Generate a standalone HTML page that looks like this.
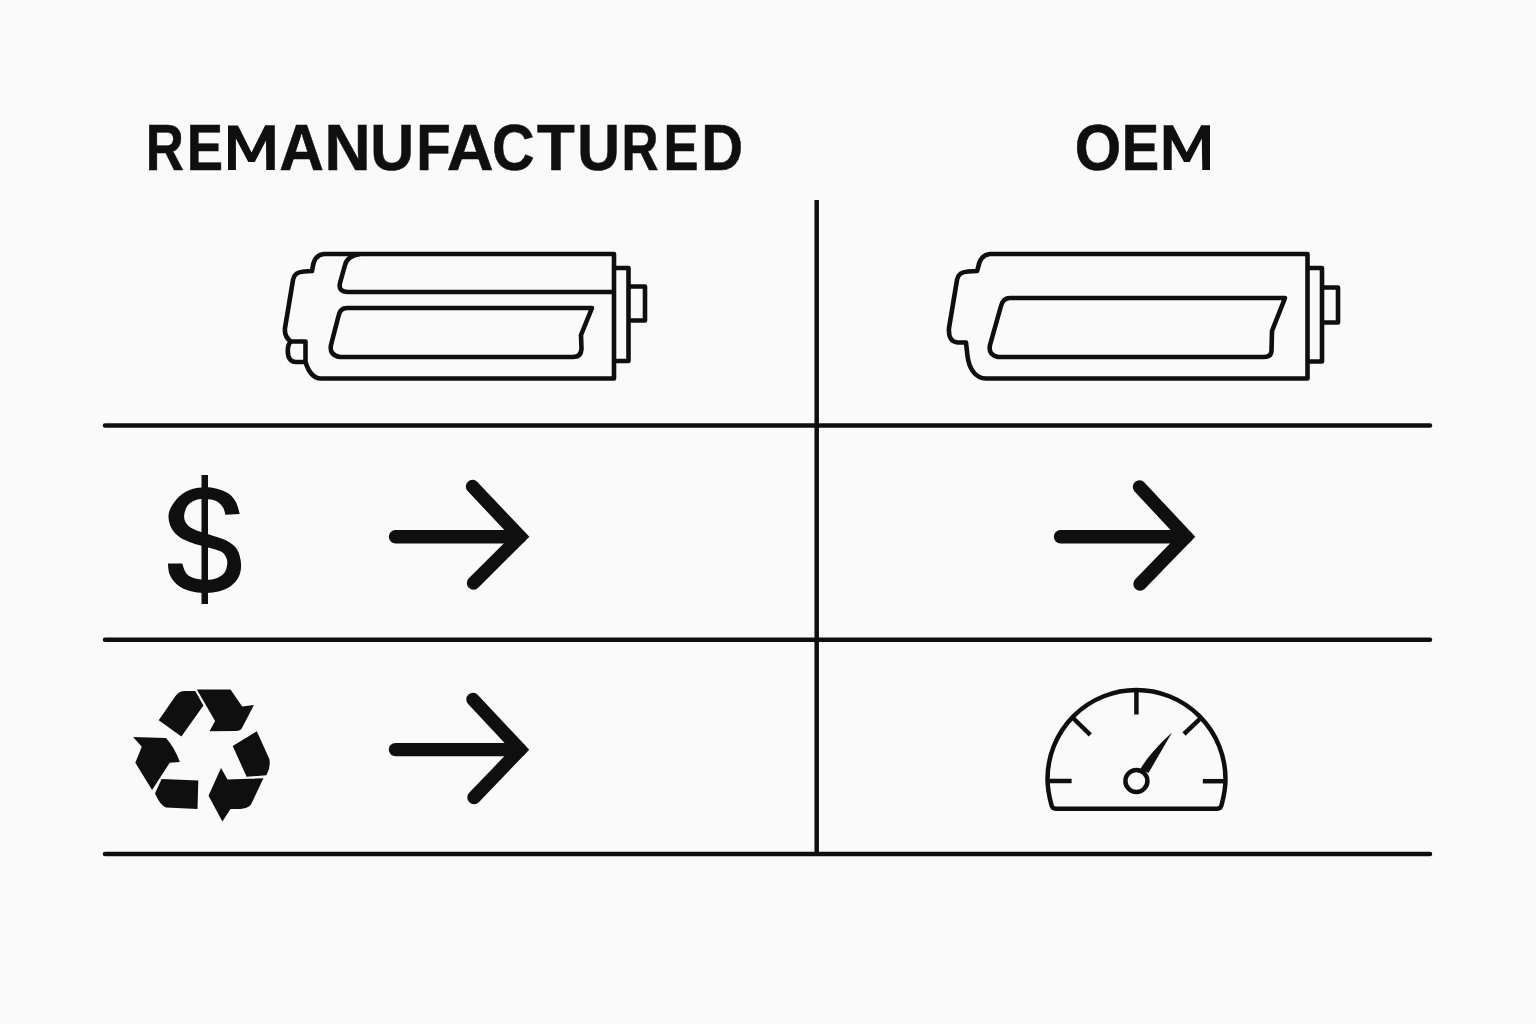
<!DOCTYPE html>
<html><head><meta charset="utf-8"><style>
html,body{margin:0;padding:0;background:#fafafa;width:1536px;height:1024px;overflow:hidden}
svg{position:absolute;left:0;top:0}
</style></head><body>
<svg width="1536" height="1024" viewBox="0 0 1536 1024">
<g fill="#0f0f0f" stroke="#0f0f0f" stroke-width="0.6" stroke-linejoin="miter" font-family="Liberation Sans" font-weight="bold" font-size="65.3">
<text transform="matrix(0.8082 0 0 1 145.77 0)" y="170.4">R</text>
<text transform="matrix(0.8325 0 0 1 186.76 0)" y="170.4">E</text>
<text transform="matrix(0.9473 0 0 1 279.16 0)" y="170.4">A</text>
<text transform="matrix(0.9768 0 0 1 324.53 0)" y="170.4">N</text>
<text transform="matrix(0.9299 0 0 1 370.25 0)" y="170.4">U</text>
<text transform="matrix(0.8663 0 0 1 416.22 0)" y="170.4">F</text>
<text transform="matrix(0.9929 0 0 1 446.69 0)" y="170.4">A</text>
<text transform="matrix(0.9018 0 0 1 491.98 0)" y="170.4">C</text>
<text transform="matrix(0.9466 0 0 1 536.91 0)" y="170.4">T</text>
<text transform="matrix(0.9045 0 0 1 577.15 0)" y="170.4">U</text>
<text transform="matrix(0.7841 0 0 1 621.38 0)" y="170.4">R</text>
<text transform="matrix(0.8052 0 0 1 663.38 0)" y="170.4">E</text>
<text transform="matrix(0.8865 0 0 1 701.13 0)" y="170.4">D</text>
<text transform="matrix(0.9147 0 0 1 1074.65 0)" y="170.4">O</text>
<text transform="matrix(0.8598 0 0 1 1121.64 0)" y="170.4">E</text>
</g>
<path fill="#0f0f0f" d="M228 170.1 L228 125.5 L238 125.5 L251.5 152.5 L265.2 125.3 L274.8 125.3 L274.8 170.1 L266.3 170.1 L266 140.5 L254.8 161.9 L248.3 161.9 L235.9 138.6 L235.9 170.1 Z M1163.7 169.9 L1163.7 125.3 L1173 125.3 L1186.7 152.3 L1201.2 125.3 L1210 125.3 L1210 169.9 L1202.3 169.9 L1201.8 138.6 L1189.7 161.9 L1184 161.9 L1171.7 139.7 L1171.7 169.9 Z"/>
<!-- grid lines -->
<g stroke="#0f0f0f" stroke-width="4.5" stroke-linecap="round">
<line x1="105" y1="425.5" x2="1430" y2="425.5"/>
<line x1="105" y1="639.8" x2="1430" y2="639.8"/>
<line x1="105" y1="853.9" x2="1430" y2="853.9"/>
<line x1="816.7" y1="200" x2="816.7" y2="853" stroke-linecap="butt"/>
</g>
<!-- battery 1 -->
<g fill="none" stroke="#0f0f0f" stroke-width="4.6" stroke-linejoin="round">
<path d="M614 254 L324 254 Q314 255 312.5 268 L312 271 L304 271.5 Q294 272 293 280 L285 328 Q284 337 291 341.5 L305.5 341.5 L305.5 362 C307.5 368.5 312 378.5 321 378.5 L614 378.5 Z"/>
<path d="M291 341.5 Q288 344 287.8 350 Q287.5 362 296 362 L305.5 362"/>
<path d="M614 268 L628.5 268 L628.5 361 L614 361"/>
<path d="M628.5 286.5 L645 286.5 L645 320.5 L628.5 320.5"/>
<path d="M360 254 Q347 256 345 265 L340 283 Q338 292 348 292 L614 292"/>
<path d="M347 308 L592 308 L581 335 L581.5 349 Q581 357 573 357 L340 357 Q329 355 331 345 L338.5 316 Q340 308 347 308 Z"/>
</g>
<!-- battery 2 -->
<g fill="none" stroke="#0f0f0f" stroke-width="4.6" stroke-linejoin="round">
<path d="M1307.5 254 L990 254 Q980 255 978 268 L977 271 L968 271.5 Q958 272 957 280 L949 328 Q948 342 958 342.5 L966 342.5 L967.5 356 C969 368 975 378.5 986 378.5 L1307.5 378.5 Z"/>
<path d="M1307.5 268 L1322 268 L1322 361.5 L1307.5 361.5"/>
<path d="M1322 287.5 L1338 287.5 L1338 322.5 L1322 322.5"/>
<path d="M1010 298 L1285 298 L1272 331 L1271.5 351 Q1271 357 1264 357 L998 357 Q988 355 990 345 L1001 306 Q1003 298 1010 298 Z"/>
</g>
<!-- dollar -->
<path fill="#0f0f0f" d="M239.75 514.12 C239.12 512.15 237.88 505.69 236 502.25 C234.12 498.81 231.83 495.79 228.5 493.5 C225.17 491.21 219.96 489.54 216 488.5 C212.04 487.46 208.71 487.15 204.75 487.25 C200.79 487.35 196.42 487.67 192.25 489.12 C188.08 490.58 183.29 492.98 179.75 496 C176.21 499.02 172.88 503.71 171 507.25 C169.12 510.79 168.4 513.71 168.5 517.25 C168.6 520.79 169.75 525.17 171.62 528.5 C173.5 531.83 176.31 534.85 179.75 537.25 C183.19 539.65 187.67 541.21 192.25 542.88 C196.83 544.54 202.46 545.79 207.25 547.25 C212.04 548.71 217.88 549.96 221 551.62 C224.12 553.29 224.96 555.27 226 557.25 C227.04 559.23 227.46 561 227.25 563.5 C227.04 566 226.42 569.85 224.75 572.25 C223.08 574.65 220.38 576.62 217.25 577.88 C214.12 579.12 209.96 579.75 206 579.75 C202.04 579.75 196.83 579.02 193.5 577.88 C190.17 576.73 187.88 575.27 186 572.88 C184.12 570.48 182.88 565.06 182.25 563.5 L167.88 563.5 C168.19 565.38 168.19 571.21 169.75 574.75 C171.31 578.29 173.92 582.04 177.25 584.75 C180.58 587.46 185.17 589.65 189.75 591 C194.33 592.35 199.96 592.77 204.75 592.88 C209.54 592.98 214.12 592.77 218.5 591.62 C222.88 590.48 227.56 588.6 231 586 C234.44 583.4 237.46 579.75 239.12 576 C240.79 572.25 241.31 567.88 241 563.5 C240.69 559.12 239.54 553.5 237.25 549.75 C234.96 546 231.21 543.29 227.25 541 C223.29 538.71 218.08 537.56 213.5 536 C208.92 534.44 203.92 533.29 199.75 531.62 C195.58 529.96 191.1 528.4 188.5 526 C185.9 523.6 184.33 520.58 184.12 517.25 C183.92 513.92 185.48 508.81 187.25 506 C189.02 503.19 191.83 501.52 194.75 500.38 C197.67 499.23 201.21 499.02 204.75 499.12 C208.29 499.23 212.98 499.65 216 501 C219.02 502.35 221.31 504.96 222.88 507.25 C224.44 509.54 224.96 513.5 225.38 514.75 Z"/>
<rect x="201.5" y="475" width="6.5" height="129" fill="#0f0f0f"/>
<!-- arrows -->
<g fill="none" stroke="#0f0f0f" stroke-width="13.4" stroke-linecap="round" stroke-linejoin="miter">
<path d="M395.5 536.7 H520"/><path d="M472.5 486.5 L520 536.7 L473.5 583"/>
<path d="M395.5 749.6 H520"/><path d="M473 699.5 L520 749.6 L474 797.5"/>
<path d="M1060.5 536.7 H1186"/><path d="M1139.5 487 L1186 536.7 L1140 584"/>
</g>
<!-- recycle -->
<g fill="#0f0f0f">
<path d="M158.7 720.3 L175.5 696.1 Q179 691 185 691 L195.3 691 L203.4 705.6 L181.4 736.4 Z"/>
<path d="M196.8 689.5 L230.5 689.5 L242.2 706.4 L253.9 704.9 L242 728 Q240.5 731 236 731 L209.5 731.2 L215.1 721 Z"/>
<path d="M232.7 745.9 L256.8 731.3 L269.3 759.1 Q271 767 266.4 775.2 L246.6 776.7 Z"/>
<path d="M263.4 778.2 L251 804.5 Q247 809 240 808.9 L230.5 808.9 L222.4 821.4 L208.5 795.7 L221 767.9 L227.5 779.6 Z"/>
<path d="M161.6 778.9 L198.3 780.4 L197.5 808.9 L166 807.5 Q160 805 155 793.5 Z"/>
<path d="M133.1 737.1 L166 737.9 Q175 748 179.9 762 L169.7 762.8 L152.1 789.9 L135.3 762.8 L141.8 746.7 Z"/>
</g>
<!-- gauge -->
<g fill="none" stroke="#0f0f0f" stroke-width="4.5">
<path d="M1056 808.8 Q1052 808.8 1051.3 804.5 Q1047.5 790 1047.5 779 A89 89 0 0 1 1225.5 779 Q1225.5 790 1221.7 804.5 Q1221 808.8 1217 808.8 Z"/>
<line x1="1136.4" y1="691" x2="1136.4" y2="714.5"/>
<line x1="1048" y1="781" x2="1071.6" y2="781"/>
<line x1="1202.8" y1="781.2" x2="1225" y2="781.2"/>
<line x1="1073" y1="718" x2="1090.3" y2="734.8"/>
<line x1="1199.7" y1="719.2" x2="1184" y2="734"/>
<circle cx="1136.4" cy="781" r="11"/>
</g>
<path fill="#0f0f0f" d="M1140 769.5 C1146.5 759 1155 748 1172 732.5 L1148.5 773 Z"/>
</svg>
</body></html>
